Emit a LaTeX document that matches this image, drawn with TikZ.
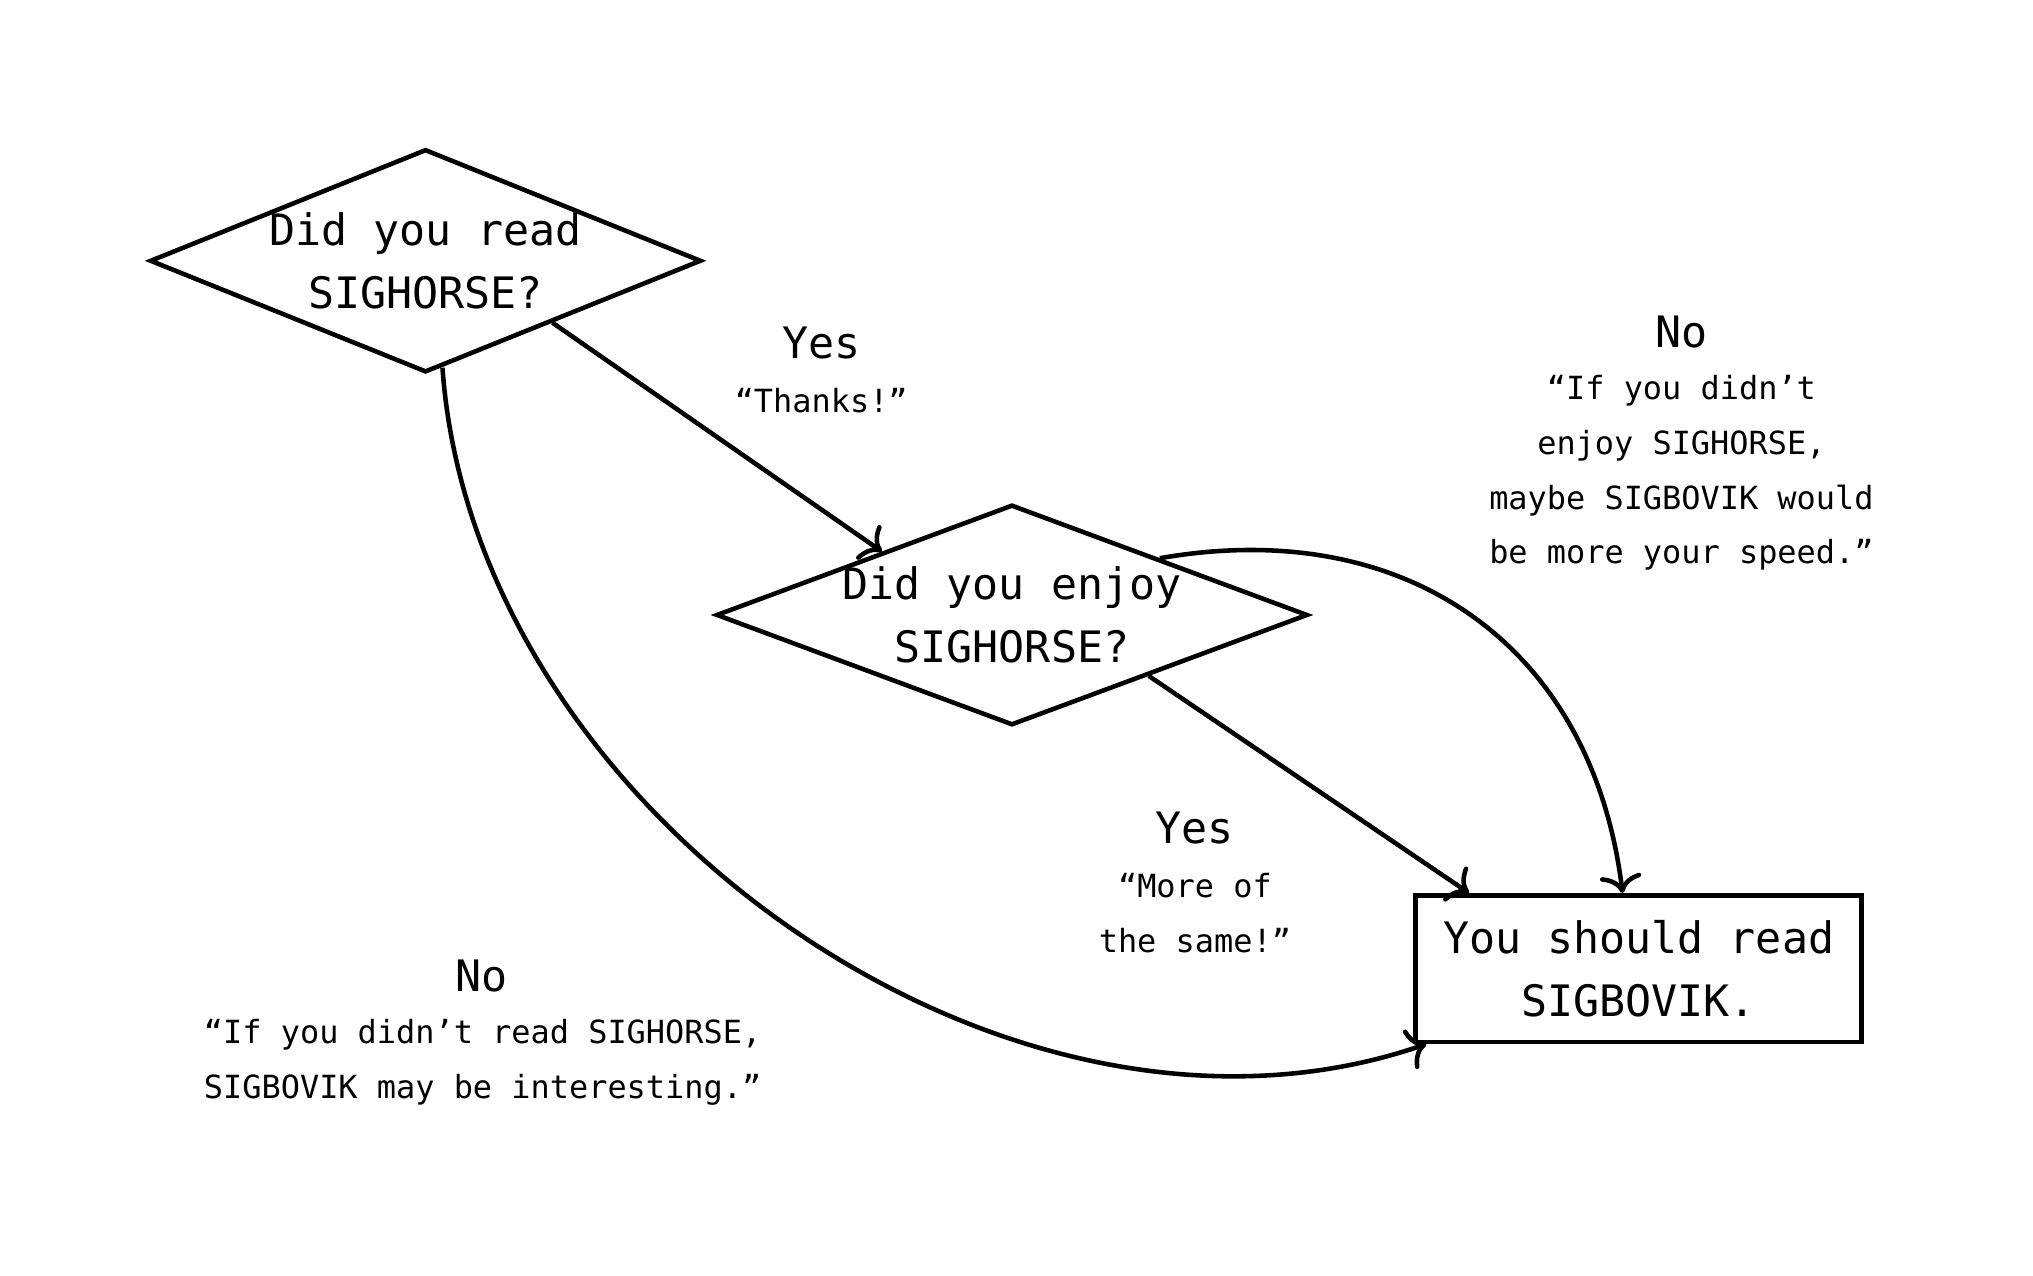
\documentclass[tikz,border=0pt]{standalone}
\usepackage{fontspec}
\setmainfont{DejaVu Sans Mono}
\usetikzlibrary{shapes.geometric,arrows.meta,positioning}

\begin{document}
\begin{tikzpicture}[line width=1pt, >={To[length=1.4mm,width=3.2mm]},
  decision/.style={draw, diamond, inner sep=0pt},
  qtext/.style={align=center, font=\fontsize{9.5}{13.9}\selectfont},
  answer/.style={font=\fontsize{9.5}{13.9}\selectfont},
  quote/.style={align=center, font=\fontsize{7}{12}\selectfont}]
\useasboundingbox (0,0) rectangle (15.67,-9.83);

\node[decision, minimum width=4.25cm, minimum height=1.72cm] (read) at (3.28,-2.01) {};
\node[qtext] (readtext) at (read) {Did you read\\SIGHORSE?};

\node[decision, minimum width=4.56cm, minimum height=1.70cm] (enjoy) at (7.80,-4.74) {};
\node[qtext] (enjoytext) at (enjoy) {Did you enjoy\\SIGHORSE?};

\node[draw, qtext, minimum width=3.44cm, minimum height=1.13cm] (sigbovik) at (12.63,-7.465) {You should read\\SIGBOVIK.};

  \draw[->] (read.-26.8) -- (enjoy.154);
  \draw[->] (enjoy.-24.7) -- (sigbovik.156);
  \draw[->] (read.-81) to[out=-86, in=-161, looseness=0.95] ([xshift=1mm]sigbovik.south west);
  \draw[->] (enjoy.21) to[out=10, in=97, looseness=1.12] (sigbovik.102);

% answers
\node[answer] (yesread) at (6.33,-2.64) {Yes};
\node[quote] (thanks) at (6.33,-3.09) {“Thanks!”};

\node[answer] (noenjoy) at (12.96,-2.56) {No};
\node[quote] (speed) at (12.96,-3.645) {“If you didn’t\\enjoy SIGHORSE,\\maybe SIGBOVIK would\\be more your speed.”};

\node[answer] (yesenjoy) at (9.21,-6.38) {Yes};
\node[quote] (same) at (9.21,-7.04) {“More of\\the same!”};

\node[answer] (noread) at (3.71,-7.52) {No};
\node[quote] (interesting) at (3.72,-8.19) {“If you didn’t read SIGHORSE,\\SIGBOVIK may be interesting.”};

\end{tikzpicture}
\end{document}
